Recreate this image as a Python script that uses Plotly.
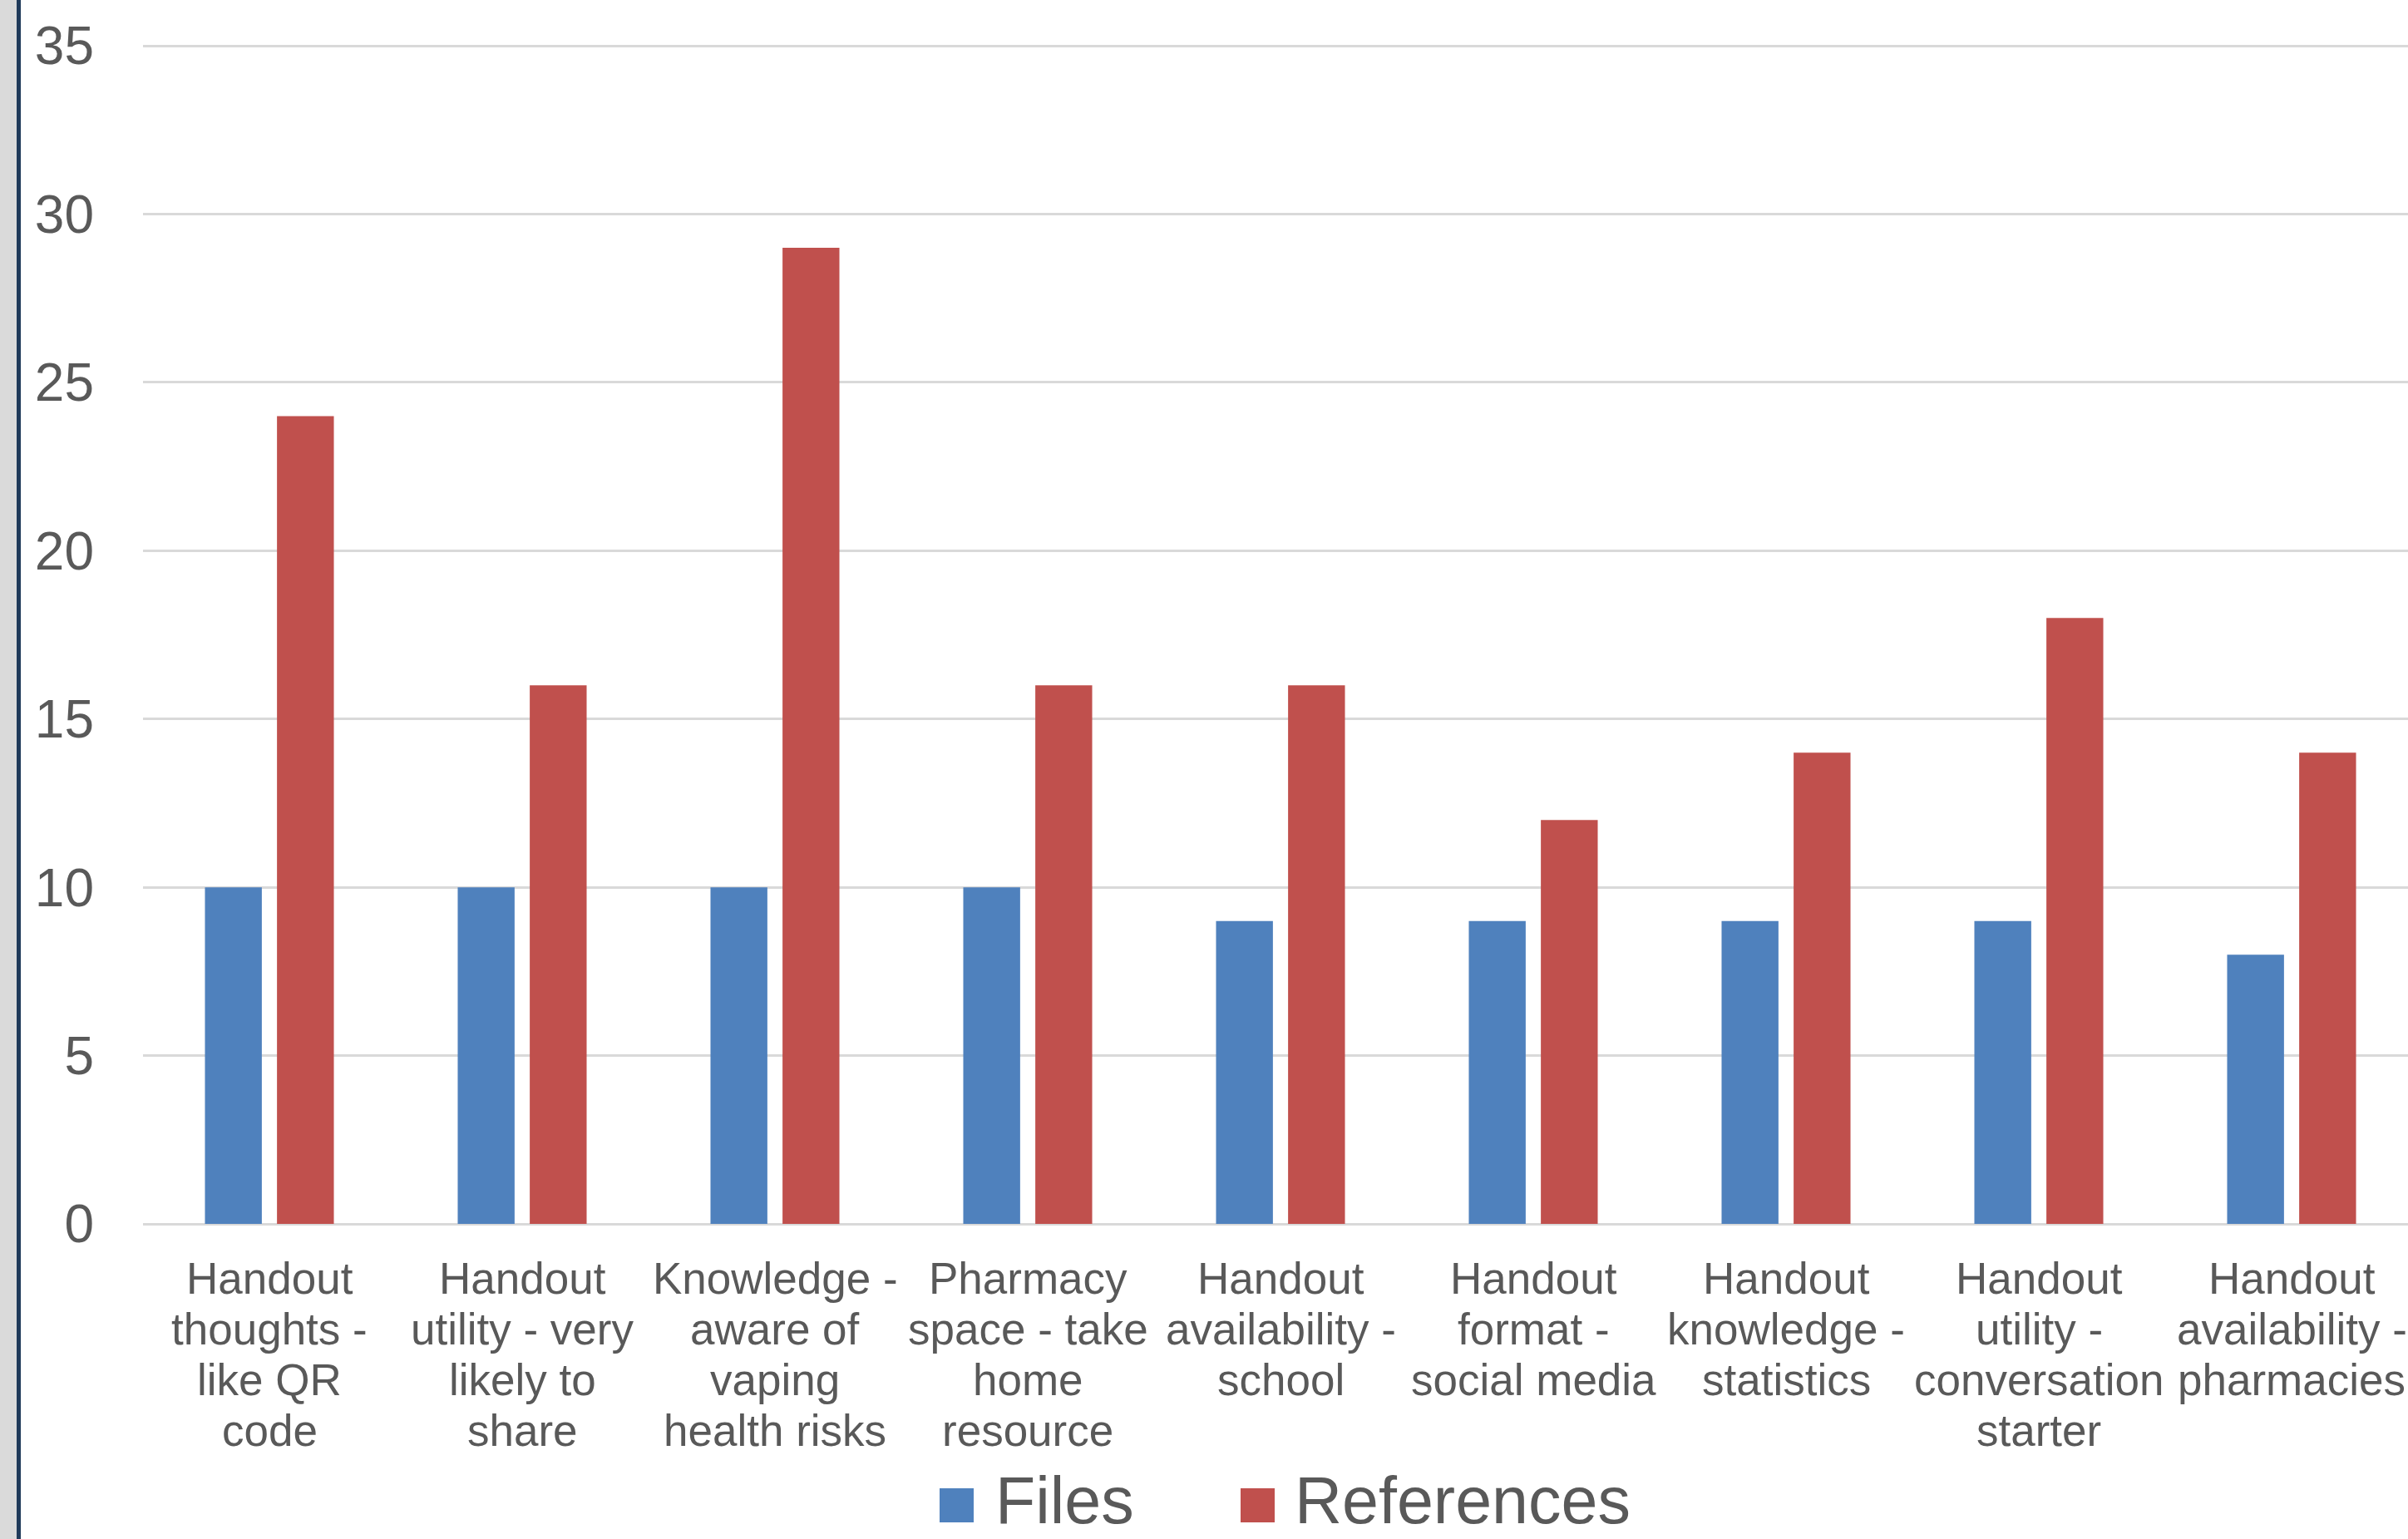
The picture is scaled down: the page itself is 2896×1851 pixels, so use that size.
import plotly.graph_objects as go

# ---- data -----------------------------------------------------------------
categories = [
    "Handout<br>thoughts -<br>like QR<br>code",
    "Handout<br>utility - very<br>likely to<br>share",
    "Knowledge -<br>aware of<br>vaping<br>health risks",
    "Pharmacy<br>space - take<br>home<br>resource",
    "Handout<br>availability -<br>school",
    "Handout<br>format -<br>social media",
    "Handout<br>knowledge -<br>statistics",
    "Handout<br>utility -<br>conversation<br>starter",
    "Handout<br>availability -<br>pharmacies",
]
files = [10, 10, 10, 10, 9, 9, 9, 9, 8]
references = [24, 16, 29, 16, 16, 12, 14, 18, 14]
series_names = ["Files", "References"]
y_ticks = [0, 5, 10, 15, 20, 25, 30, 35]

# ---- styling --------------------------------------------------------------
W, H = 2896, 1851
L, R, T, B = 172, 2896, 51, 1472          # plot area in pixels
Y_TOP = 35.1                              # a little headroom so the 35 gridline shows
BLUE, RED = "#4F81BD", "#C0504D"
TEXT = "#595959"
GRID = "#D9D9D9"
FONT = "Liberation Sans, Arial, sans-serif"
BAR_W = 0.225


def px_x(px):
    return (px - L) / (R - L)


def px_y(py):
    return (B - py) / (B - T)


fig = go.Figure()
fig.add_trace(go.Bar(x=categories, y=files, name=series_names[0],
                     marker=dict(color=BLUE, line=dict(width=0)),
                     width=BAR_W, offset=-0.255))
fig.add_trace(go.Bar(x=categories, y=references, name=series_names[1],
                     marker=dict(color=RED, line=dict(width=0)),
                     width=BAR_W, offset=0.030))

# category labels, one line at a time for tight line spacing
annotations = []
for cat in categories:
    for j, line in enumerate(cat.split("<br>")):
        annotations.append(dict(
            x=cat, xref="x", y=0, yref="y", yshift=-(65 + j * 61),
            text=line, showarrow=False, xanchor="center", yanchor="middle",
            font=dict(family=FONT, size=53, color=TEXT)))

# legend drawn as swatches + labels
legend_items = [(series_names[0], BLUE, 1130, 1195),
                (series_names[1], RED, 1492, 1555)]
shapes = [
    # grey side strip and dark frame edge on the left
    dict(type="rect", xref="paper", yref="paper",
         x0=px_x(0), x1=px_x(20), y0=px_y(H), y1=px_y(0),
         fillcolor="#DADADA", line=dict(width=0), layer="below"),
    dict(type="rect", xref="paper", yref="paper",
         x0=px_x(20), x1=px_x(25), y0=px_y(H), y1=px_y(0),
         fillcolor="#1F3A5A", line=dict(width=0), layer="below"),
]
for name, color, sx, tx in legend_items:
    shapes.append(dict(type="rect", xref="paper", yref="paper",
                       x0=px_x(sx), x1=px_x(sx + 41),
                       y0=px_y(1831), y1=px_y(1790),
                       fillcolor=color, line=dict(width=0)))
    annotations.append(dict(x=px_x(tx), xref="paper", y=px_y(1804), yref="paper",
                            text=name, showarrow=False, xanchor="left",
                            yanchor="middle",
                            font=dict(family=FONT, size=79, color=TEXT)))

fig.update_layout(
    width=W, height=H, autosize=False,
    margin=dict(l=L, r=W - R, t=T, b=H - B, pad=0),
    paper_bgcolor="white", plot_bgcolor="white",
    barmode="group", showlegend=False,
    shapes=shapes, annotations=annotations,
    font=dict(family=FONT, color=TEXT),
)
fig.update_xaxes(range=[-0.5, 8.5 - 12 / 304.1], showticklabels=False,
                 showgrid=False, zeroline=False, showline=False, ticks="")
fig.update_yaxes(range=[0, Y_TOP], tickvals=y_ticks, showgrid=True,
                 gridcolor=GRID, gridwidth=2.5, zeroline=True,
                 zerolinecolor=GRID, zerolinewidth=2.5, showline=False,
                 ticks="", ticklabelstandoff=58,
                 tickfont=dict(family=FONT, size=64, color=TEXT))

fig.write_html("out.html")
